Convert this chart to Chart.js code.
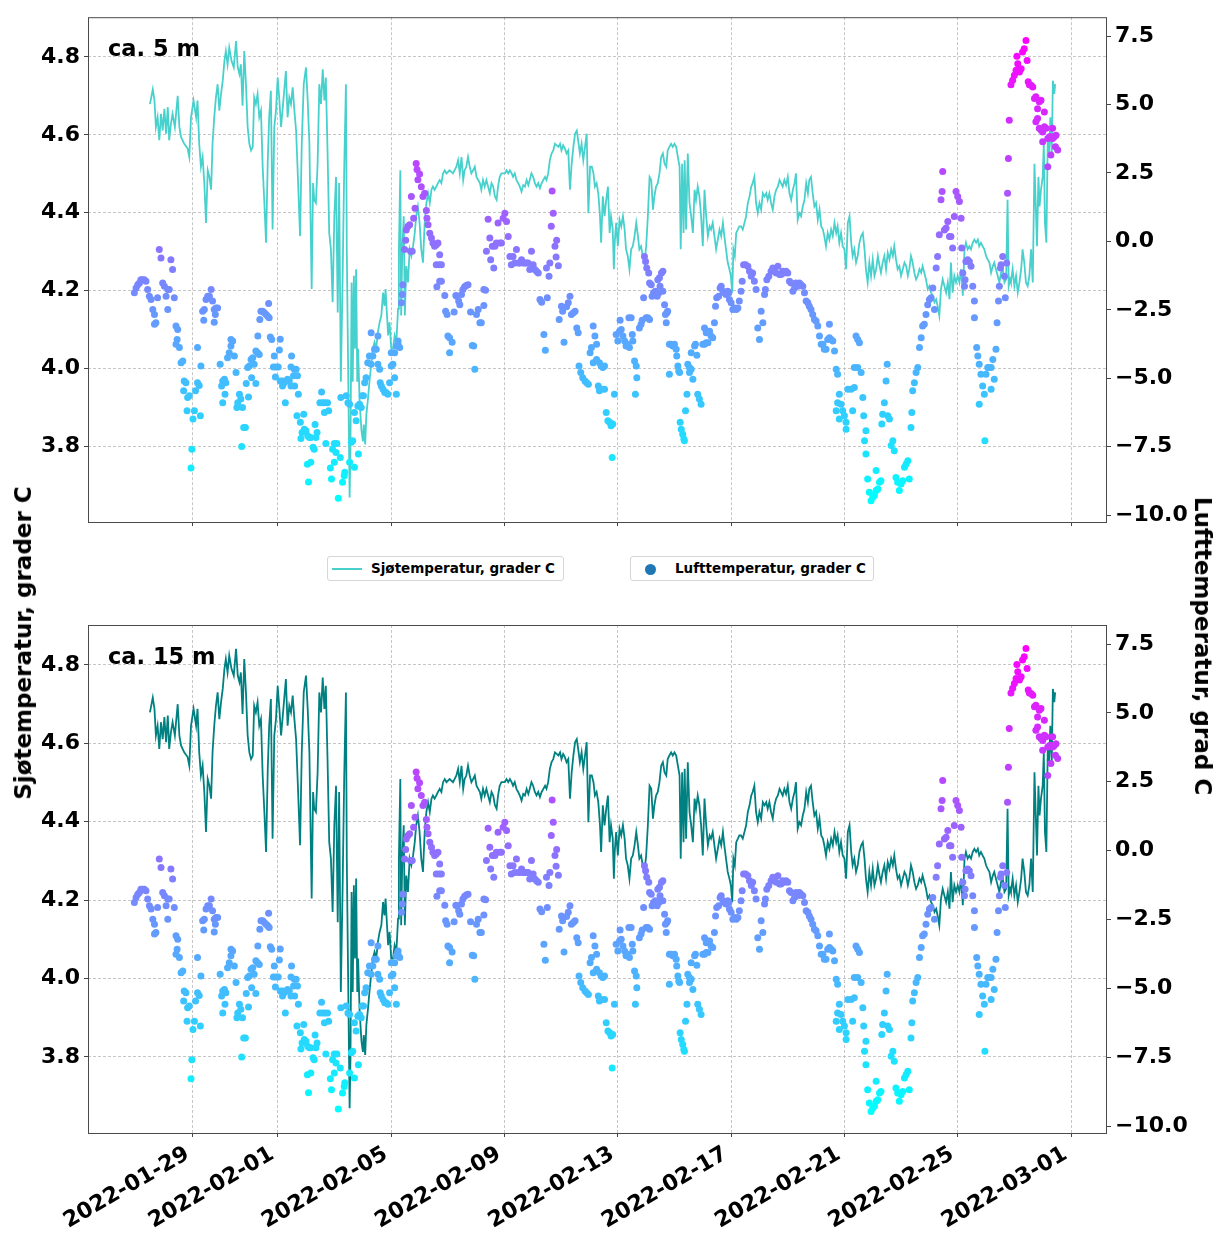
<!DOCTYPE html>
<html>
<head>
<meta charset="utf-8">
<title>Sjø- og lufttemperatur</title>
<script src="https://cdn.jsdelivr.net/npm/chart.js@4.4.1/dist/chart.umd.min.js"></script>
<style>
  body { margin: 0; background: #fff; }
  #fig { position: relative; width: 1217px; height: 1234px; font-family: "DejaVu Sans", sans-serif; font-weight: bold; color: #000; }
  #fig canvas { position: absolute; left: 0; }
  .axis-title { position: absolute; font-size: 23px; white-space: nowrap; }
  .legend-box { position: absolute; top: 556px; height: 25px; box-sizing: border-box; border: 1px solid #d6d6d6; border-radius: 3px; font-size: 13.5px; line-height: 23px; background: #fff; }
  .legend-box span { position: absolute; top: 0; }
</style>
</head>
<body>
<div id="fig">
  <canvas id="topChart" width="1217" height="540" style="top:0"></canvas>
  <canvas id="bottomChart" width="1217" height="634" style="top:600px"></canvas>

  <div class="legend-box" style="left:327px; width:237px;">
    <div style="position:absolute; left:4px; top:11px; width:30px; height:2px; background:#48d1cc;"></div>
    <span style="left:43px;">Sjøtemperatur, grader C</span>
  </div>
  <div class="legend-box" style="left:630px; width:244px;">
    <div style="position:absolute; left:14px; top:7px; width:11px; height:11px; border-radius:50%; background:#1f77b4;"></div>
    <span style="left:44px;">Lufttemperatur, grader C</span>
  </div>

  <div class="axis-title" style="left:23px; top:643px; transform:translate(-50%,-50%) rotate(-90deg);">Sjøtemperatur, grader C</div>
  <div class="axis-title" style="left:1203px; top:646px; transform:translate(-50%,-50%) rotate(90deg);">Lufttemperatur, grad C</div>
</div>

<script>
// Time axis: days since 2022-01-27 00:00
const dateTicks = [2, 5, 9, 13, 17, 21, 25, 29, 33];
const dateLabels = ['2022-01-29', '2022-02-01', '2022-02-05', '2022-02-09', '2022-02-13',
                    '2022-02-17', '2022-02-21', '2022-02-25', '2022-03-01'];
const seaTicks = [3.8, 4.0, 4.2, 4.4, 4.6, 4.8];
const airTicks = [-10, -7.5, -5, -2.5, 0, 2.5, 5, 7.5];
const panelLabels = ['ca. 5 m', 'ca. 15 m'];

// Sea temperature (grader C)
const seaDays = [
  0.48,0.58,0.64,0.69,0.75,0.81,0.87,0.93,0.99,1.05,1.11,1.16,1.22,1.28,1.36,1.46,1.52,1.58,1.69,1.81,
  1.87,1.93,2.02,2.11,2.16,2.22,2.28,2.34,2.40,2.46,2.52,2.58,2.64,2.69,2.75,2.81,2.87,2.93,2.99,3.05,
  3.11,3.16,3.22,3.28,3.36,3.44,3.52,3.58,3.64,3.69,3.75,3.81,3.87,3.93,3.99,4.05,4.11,4.16,4.22,4.28,
  4.34,4.40,4.46,4.52,4.58,4.64,4.69,4.75,4.81,4.87,4.93,4.99,5.05,5.11,5.16,5.22,5.28,5.34,5.40,5.46,
  5.52,5.58,5.64,5.69,5.78,5.84,5.91,5.99,6.05,6.11,6.19,6.24,6.28,6.34,6.40,6.46,6.52,6.58,6.64,6.69,
  6.75,6.81,6.87,6.93,6.99,7.05,7.11,7.16,7.22,7.28,7.34,7.40,
  7.43,7.47,7.53,7.56,7.60,7.64,7.68,7.72,7.76,7.80,7.83,7.88,7.92,7.95,8.00,8.03,8.08,8.12,8.18,8.23,
  8.29,8.35,8.41,8.47,8.53,8.59,8.65,8.71,8.76,8.80,8.85,8.89,8.94,9.00,9.06,9.12,9.18,9.24,9.27,9.32,
  9.35,9.39,9.44,9.48,9.53,9.59,9.65,9.71,9.77,9.83,9.88,9.94,10.00,10.06,10.12,10.18,10.24,10.30,10.36,10.42,
  10.47,10.53,10.59,10.65,10.71,10.77,10.83,10.89,10.95,11.06,11.18,11.30,11.36,11.42,11.48,11.54,11.59,11.65,11.71,11.77,
  11.83,11.89,11.95,12.01,12.07,12.13,12.18,12.24,12.30,12.36,12.42,12.48,12.54,12.60,12.66,12.72,12.77,12.83,12.89,12.95,
  13.01,13.07,13.13,13.19,13.25,13.30,13.36,13.42,13.48,13.54,13.60,13.66,13.72,13.78,13.84,13.89,13.95,14.01,14.07,14.13,
  14.19,14.25,14.31,14.37,14.43,14.48,14.54,14.60,14.66,14.72,14.78,14.84,14.90,14.96,15.01,15.07,15.13,15.19,15.25,15.31,
  15.37,15.43,15.49,15.55,15.60,15.66,15.72,15.78,15.84,15.90,15.96,16.02,16.08,16.14,16.19,16.25,16.31,16.37,
  16.41,16.47,16.53,16.59,16.65,16.71,16.76,16.82,16.86,16.89,16.94,17.00,17.06,17.12,17.18,17.24,17.29,17.35,17.41,17.47,
  17.53,17.59,17.65,17.71,17.76,17.82,17.88,17.94,18.00,18.06,18.12,18.18,18.24,18.29,18.35,18.41,18.47,18.53,18.59,18.65,
  18.71,18.76,18.82,18.88,18.94,19.00,19.06,19.12,19.18,19.22,19.27,19.32,19.36,19.41,19.47,19.53,19.59,19.65,19.71,19.76,
  19.82,19.88,19.94,20.00,20.06,20.12,20.18,20.24,20.29,20.35,20.41,20.47,20.53,20.59,20.65,20.71,20.76,20.82,20.88,20.94,
  20.99,21.04,21.08,21.13,21.18,21.24,21.29,21.35,21.41,21.47,21.53,21.59,21.65,21.71,21.76,21.82,21.88,21.94,22.00,22.06,
  22.12,22.18,22.24,22.29,22.35,22.41,22.47,22.53,22.59,22.65,22.71,22.76,22.82,22.88,22.94,23.00,23.06,23.12,23.18,23.24,
  23.29,23.35,23.41,23.47,23.53,23.59,23.65,23.71,23.76,23.82,23.88,23.94,24.00,24.06,24.12,24.18,24.24,24.29,24.35,24.41,
  24.47,24.53,24.59,24.65,24.71,24.76,24.82,24.88,24.94,25.00,25.06,25.12,25.18,
  25.24,25.29,25.35,25.41,25.47,25.53,25.59,25.65,25.71,25.76,25.82,25.88,25.94,26.00,26.06,26.12,26.18,26.24,26.29,26.35,
  26.41,26.47,26.53,26.59,26.65,26.71,26.76,26.82,26.88,26.94,27.00,27.06,27.12,27.18,27.24,27.29,27.35,27.41,27.47,27.53,
  27.59,27.65,27.71,27.76,27.82,27.88,27.94,28.00,28.06,28.12,28.18,28.24,28.29,28.35,28.41,28.47,28.53,28.59,28.65,28.71,
  28.76,28.82,28.88,28.94,29.00,29.06,29.12,29.18,29.24,29.29,29.35,29.41,29.47,29.53,29.59,29.65,29.71,29.76,29.82,29.88,
  29.94,30.00,30.06,30.12,30.18,30.24,30.29,30.35,30.41,30.47,30.53,30.59,30.65,30.71,30.76,30.80,30.85,30.88,30.94,31.00,
  31.06,31.12,31.18,31.24,31.29,31.35,31.41,31.47,31.53,31.59,31.65,31.71,31.76,31.80,31.85,31.89,31.94,32.00,32.04,32.08,
  32.13,32.18,32.22,32.27,32.32,32.36,32.41,32.44
];
const seaTemp = [
  4.679,4.717,4.688,4.620,4.645,4.586,4.654,4.611,4.667,4.603,4.671,4.586,4.628,4.654,4.620,4.700,4.620,4.594,4.577,4.565,
  4.543,4.645,4.688,4.645,4.688,4.577,4.518,4.543,4.476,4.374,4.509,4.492,4.459,4.577,4.645,4.696,4.730,4.662,4.705,4.739,
  4.790,4.815,4.781,4.824,4.790,4.773,4.841,4.773,4.756,4.781,4.675,4.815,4.730,4.620,4.577,4.560,4.569,4.696,4.679,4.705,
  4.645,4.662,4.518,4.425,4.323,4.535,4.645,4.713,4.357,4.620,4.662,4.747,4.688,4.620,4.662,4.713,4.764,4.645,4.696,4.679,
  4.722,4.662,4.611,4.518,4.340,4.577,4.730,4.773,4.688,4.577,4.204,4.476,4.433,4.425,4.526,4.730,4.679,4.768,4.688,4.747,
  4.560,4.348,4.306,4.170,4.391,4.492,4.144,4.476,3.966,4.221,4.518,4.730,
  4.306,4.051,3.669,3.796,4.221,3.966,4.238,4.051,4.255,3.966,4.051,3.924,3.873,3.839,3.813,3.856,3.805,3.881,3.924,3.966,
  4.009,4.051,4.068,4.051,4.094,4.119,4.136,4.195,4.161,4.204,4.136,4.085,4.119,4.051,4.051,4.085,4.068,4.153,4.306,4.509,
  4.136,4.306,4.391,4.136,4.263,4.221,4.306,4.289,4.314,4.348,4.391,4.416,4.374,4.306,4.272,4.374,4.425,4.450,4.425,4.459,
  4.467,4.459,4.467,4.476,4.484,4.476,4.501,4.509,4.501,4.509,4.501,4.518,4.535,4.501,4.543,4.484,4.509,4.518,4.543,4.518,
  4.501,4.509,4.518,4.492,4.484,4.476,4.459,4.484,4.467,4.484,4.467,4.450,4.476,4.467,4.442,4.433,4.467,4.492,4.501,4.501,
  4.501,4.509,4.501,4.509,4.501,4.492,4.501,4.484,4.476,4.467,4.454,4.471,4.467,4.484,4.471,4.484,4.501,4.492,4.476,4.467,
  4.476,4.463,4.476,4.484,4.492,4.484,4.501,4.535,4.552,4.560,4.577,4.573,4.569,4.577,4.560,4.573,4.565,4.552,4.560,4.459,
  4.526,4.569,4.603,4.611,4.586,4.552,4.577,4.535,4.569,4.603,4.399,4.518,4.518,4.501,4.467,4.476,4.450,4.391,
  4.323,4.442,4.391,4.433,4.467,4.348,4.391,4.357,4.255,4.323,4.374,4.314,4.382,4.365,4.391,4.357,4.306,4.289,4.255,4.306,
  4.314,4.340,4.374,4.340,4.306,4.314,4.289,4.272,4.314,4.391,4.492,4.484,4.408,4.442,4.467,4.476,4.501,4.543,4.552,4.526,
  4.518,4.560,4.569,4.577,4.569,4.577,4.569,4.543,4.518,4.306,4.526,4.348,4.535,4.357,4.552,4.425,4.391,4.348,4.459,4.433,
  4.467,4.442,4.391,4.314,4.459,4.391,4.340,4.365,4.357,4.374,4.340,4.306,4.331,4.357,4.340,4.374,4.340,4.306,4.272,4.255,
  4.238,4.195,4.306,4.289,4.348,4.357,4.365,4.365,4.357,4.374,4.391,4.425,4.442,4.467,4.476,4.492,4.425,4.399,4.425,4.408,
  4.450,4.442,4.450,4.433,4.450,4.425,4.408,4.442,4.459,4.467,4.484,4.476,4.467,4.484,4.471,4.492,4.450,4.433,4.459,4.476,
  4.501,4.382,4.399,4.391,4.416,4.433,4.476,4.450,4.484,4.492,4.450,4.416,4.425,4.382,4.408,4.365,4.357,4.340,4.314,4.348,
  4.331,4.357,4.340,4.374,4.348,4.365,4.323,4.348,4.314,4.306,4.255,4.374,4.391,
  4.323,4.289,4.306,4.272,4.289,4.323,4.340,4.348,4.306,4.255,4.221,4.272,4.238,4.280,4.238,4.255,4.289,4.263,4.246,4.272,
  4.289,4.255,4.297,4.280,4.306,4.289,4.314,4.280,4.255,4.263,4.238,4.255,4.272,4.263,4.238,4.255,4.289,4.272,4.246,4.229,
  4.238,4.255,4.246,4.263,4.246,4.229,4.204,4.212,4.195,4.187,4.170,4.178,4.161,4.136,4.204,4.229,4.212,4.195,4.221,4.178,
  4.272,4.195,4.238,4.221,4.238,4.221,4.255,4.187,4.306,4.323,4.306,4.314,4.306,4.323,4.331,4.323,4.331,4.314,4.323,4.314,
  4.306,4.289,4.280,4.272,4.246,4.263,4.272,4.255,4.238,4.221,4.246,4.255,4.221,4.229,4.433,4.212,4.229,4.221,4.255,4.212,
  4.238,4.195,4.221,4.255,4.306,4.272,4.221,4.212,4.238,4.306,4.221,4.526,4.408,4.314,4.492,4.416,4.459,4.492,4.577,4.374,
  4.323,4.594,4.543,4.645,4.552,4.739,4.705,4.730
];

// Air temperature (grader C)
const airDays = [
  -0.07,-0.01,0.05,0.11,0.16,0.22,0.28,0.34,0.40,0.46, 0.52,0.58,0.64,0.64,0.69,0.75,0.81,0.87,0.93,0.99,
  1.05,1.11,1.11,1.16,1.22,1.28,1.34,1.40,1.40,1.44, 1.46,1.52,1.58,1.64,1.67,1.69,1.75,1.79,1.81,1.87,
  1.93,1.96,2.00,2.05,2.09,2.16,2.16,2.22,2.26,2.28, 2.34,2.38,2.40,2.46,2.52,2.58,2.64,2.69,2.75,2.75,
  2.79,2.81,2.87,2.96,3.01,3.05,3.05,3.11,3.13,3.16, 3.22,3.28,3.34,3.34,3.40,3.46,3.52,3.55,3.58,3.64,
  3.69,3.72,3.75,3.79,3.85,3.88,3.93,3.96,3.99,4.05, 4.07,4.11,4.16,4.22,4.22,4.28,4.29,4.34,4.36,4.40,
  4.46,4.52,4.58,4.64,4.67,4.69,4.73,4.78,4.84,4.87, 4.91,4.93,5.01,5.05,5.08,5.08,5.16,5.16,5.22,5.26,
  5.28,5.34,5.40,5.46,5.46,5.48,5.55,5.58,5.59,5.64, 5.67,5.69,5.72,5.79,5.81,5.85,5.91,5.93,5.99,6.04,
  6.05,6.08,6.11,6.16,6.16,6.24,6.28,6.31,6.34,6.38, 6.48,6.54,6.58,6.64,6.66,6.69,6.75,6.79,6.85,6.89,
  6.93,6.99,6.99,7.05,7.08,7.13,7.20,7.22,7.28,7.34, 7.36,
  7.41,7.47,7.53,7.53,7.59,7.64,7.70,7.70,7.76,7.82, 7.84,7.88,7.94,7.97,8.02,8.06,8.11,8.17,8.23,8.29,
  8.29,8.35,8.41,8.47,8.53,8.53,8.59,8.61,8.65,8.71, 8.77,8.82,8.88,8.94,9.00,9.00,9.06,9.12,9.12,9.18,
  9.18,9.24,9.24,9.30,9.36,9.39,9.41,9.47,9.51,9.53, 9.59,9.65,9.68,9.74,9.79,9.71,9.84,9.88,9.91,9.94,
  10.00,10.06,10.12,10.18,10.24,10.26,10.30,10.36,10.42,10.47, 10.53,10.59,10.65,10.59,10.69,10.71,10.77,10.61,10.71,10.77,
  10.89,10.92,10.97,11.00,11.06,11.15,11.06,11.22,11.28,11.32, 11.38,11.42,11.48,11.53,11.59,11.65,11.71,11.80,11.86,11.91,
  11.95,12.01,12.07,12.13,12.18,12.27,12.27,12.33,12.36,12.42, 12.48,12.51,12.57,12.62,12.66,12.71,12.77,12.83,12.89,12.95,
  13.01,13.07,13.13,13.19,13.24,13.30,13.36,13.42,13.48,13.54, 13.60,13.66,13.72,13.77,13.83,13.89,13.95,14.01,14.07,14.13,
  14.19,14.25,14.31,14.39,14.44,14.51,14.48,14.57,14.60,14.65, 14.68,14.72,14.78,14.82,14.84,14.90,14.93,15.01,15.05,15.10,
  15.19,15.25,15.31,15.36,15.43,15.49,15.55,15.60,15.63,15.69, 15.76,15.84,15.90,15.96,16.02,16.07,16.13,16.13,16.19,16.25,
  16.25,16.31,
  16.35,16.35,16.41,16.41,16.47,16.53,16.53,16.59,16.65,16.71, 16.76,16.80,16.82,16.88,16.94,17.00,17.06,17.08,17.12,17.18,
  17.24,17.29,17.35,17.39,17.41,17.47,17.51,17.53,17.59,17.62, 17.65,17.67,17.76,17.82,17.86,17.91,17.94,17.98,18.00,18.02,
  18.06,18.09,18.12,18.12,18.18,18.21,18.26,18.32,18.39,18.41, 18.45,18.47,18.49,18.54,18.59,18.59,18.65,18.68,18.71,18.73,
  18.76,18.82,18.82,18.88,18.94,19.00,19.06,19.08,19.12,19.15, 19.18,19.20,19.24,19.29,19.33,19.35,19.39,19.44,19.47,19.53,
  19.53,19.59,19.59,19.65,19.71,19.74,19.79,19.82,19.88,19.94, 20.00,20.06,20.06,20.12,20.12,20.18,20.18,20.24,20.29,20.35,
  20.41,20.45,20.49,20.56,20.61,20.65,20.71,20.76,20.82,20.88, 20.92,20.94,21.00,21.06,21.12,21.18,21.24,21.29,21.35,21.39,
  21.44,21.51,21.59,21.65,21.71,21.76,21.82,21.88,21.94,22.00, 22.06,22.12,22.18,22.21,22.26,22.33,22.41,22.47,22.53,22.59,
  22.65,22.71,22.76,22.82,22.88,22.94,23.00,23.06,23.12,23.18, 23.24,23.29,23.35,23.41,23.47,23.53,23.59,23.65,23.71,23.76,
  23.82,23.88,23.94,24.00,24.06,24.12,24.18,24.24,24.29,24.35, 24.41,24.47,24.47,24.53,24.59,24.65,24.71,24.71,24.76,24.76,
  24.82,24.82,24.88,24.94,25.00,25.06,25.06,25.12,
  25.24,25.29,25.35,25.35,25.41,25.47,25.47,25.53,25.59,25.65, 25.68,25.71,25.76,25.76,25.82,25.88,25.94,26.00,26.06,26.12,
  26.12,26.18,26.24,26.29,26.32,26.35,26.41,26.47,26.51,26.53, 26.59,26.65,26.71,26.76,26.82,26.88,26.94,27.00,27.06,27.12,
  27.18,27.24,27.29,27.35,27.38,27.41,27.47,27.53,27.59,27.65, 27.71,27.76,27.82,27.88,27.94,28.00,28.06,28.12,28.18,28.24,
  28.29,28.35,28.41,28.45,28.47,28.53,28.59,28.65,28.71,28.76, 28.82,28.88,28.94,29.00,29.06,29.12,29.14,29.18,29.24,29.26,
  29.29,29.35,29.41,29.47,29.53,29.59,29.59,29.67,29.71,29.76, 29.76,29.82,29.88,29.94,29.96,30.00,30.06,30.12,30.18,30.18,
  30.24,30.29,30.35,30.39,30.44,30.47,30.51,30.53,30.59,30.65, 30.68,30.73,30.76,30.79,30.82,30.88,30.94,31.00,31.06,31.09,
  31.12,31.18,31.24,31.29,31.35,31.41,31.45,31.49,31.53,31.59, 31.65,31.71,31.76,31.76,31.82,31.82,31.88,31.88,31.94,31.94,
  32.00,32.00,32.06,32.06,32.12,32.18,32.18,32.24,32.29,32.29, 32.35,32.35,32.41,32.45,32.47,32.53
];
const airTemp = [
  -1.88,-1.70,-1.58,-1.52,-1.40,-1.40,-1.40,-1.46,-1.76,-2.00, -2.12,-2.49,-2.67,-3.03,-2.97,-2.06,-0.30,-0.61,-1.52,-1.64,
  -2.00,-1.76,-2.49,-1.76,-0.67,-1.03,-2.06,-3.09,-3.76,-3.58, -3.22,-3.88,-4.43,-4.37,-5.46,-5.10,-5.16,-6.19,-5.70,-5.64,
  -8.28,-7.59,-6.49,-6.19,-5.46,-5.16,-3.88,-5.26,-6.37,-4.55, -2.55,-2.88,-2.49,-2.12,-2.00,-2.00,-1.76,-2.18,-2.49,-2.95,
  -2.67,-2.43,-2.43,-4.49,-5.28,-5.10,-5.89,-5.04,-5.58,-5.16, -4.25,-4.07,-3.58,-3.82,-3.64,-4.19,-4.79,-6.07,-5.89,-5.58,
  -5.76,-7.49,-6.07,-6.80,-6.80,-5.19,-4.61,-5.68,-4.55,-4.31, -4.98,-4.25,-4.49,-4.00,-5.19,-4.07,-3.46,-4.13,-2.85,-2.55,
  -2.55,-2.61,-2.67,-2.73,-2.27,-2.79,-3.49,-3.58,-4.59,-4.19, -4.95,-4.59,-4.59,-3.97,-3.57,-5.10,-5.10,-5.28,-5.16,-5.89,
  -5.10,-5.04,-5.10,-4.59,-5.28,-4.19,-4.91,-4.67,-5.28,-4.67, -6.37,-4.91,-5.58,-6.61,-7.20,-6.98,-6.31,-6.86,-6.92,-8.14,
  -7.10,-8.79,-7.16,-8.07,-7.16,-7.52,-7.59,-6.69,-7.16,-6.98, -5.89,-5.50,-5.89,-6.25,-5.89,-7.38,-5.89,-6.19,-8.28,-8.68,
  -7.59,-7.38,-8.07,-7.71,-7.38,-9.38,-7.89,-5.70,-8.80,-8.56, -8.43,
  -5.64,-5.89,-5.95,-8.07,-7.34,-7.28,-8.25,-6.25,-6.55,-6.01, -7.77,-5.95,-6.07,-5.64,-5.64,-5.16,-4.98,-4.43,-4.19,-3.34,
  -4.49,-4.19,-3.94,-3.94,-3.46,-4.49,-4.67,-5.16,-5.28,-5.40, -5.52,-5.52,-5.58,-5.16,-4.55,-4.07,-4.49,-4.98,-4.07,-5.58,
  -3.82,-3.64,-3.76,-3.88,-2.24,-1.94,-1.58,-0.30,0.04,0.42, 0.55,0.61,-0.36,-0.36,0.85,1.64,1.21,2.85,2.63,2.25,
  2.46,2.00,1.64,1.76,1.13,0.85,0.61,0.30,0.12,-0.06, -0.18,-0.12,-0.06,-0.85,-0.85,-0.49,-0.85,-1.66,-1.46,-1.46,
  -1.98,-2.55,-2.67,-3.46,-3.52,-3.68,-4.07,-2.58,-1.98,-2.00, -2.18,-2.31,-1.94,-1.76,-1.66,-1.61,-1.58,-2.58,-3.80,-3.82,
  -4.67,-2.67,-2.49,-2.97,-2.97,-2.34,-1.76,-1.78,-0.36,0.81, 0.12,-0.67,-0.18,-0.97,-0.18,-0.06,0.67,-0.06,-0.06,0.85,
  1.03,0.73,0.18,-0.55,-0.85,-0.55,-0.79,-0.30,-0.79,-0.79, -0.67,-0.79,-0.79,-0.79,-0.79,-1.03,-0.36,-0.85,-1.03,-1.09,
  -1.15,-2.12,-2.22,-3.40,-3.98,-2.06,-0.97,-1.27,-0.79,0.55, 1.84,1.03,-0.18,-0.57,0.04,-0.89,-2.85,-2.37,-2.55,-3.68,
  -2.39,-2.24,-2.00,-2.67,-2.61,-2.55,-3.16,-3.34,-4.55,-4.79, -4.98,-5.10,-5.16,-5.22,-4.07,-3.88,-3.09,-4.43,-3.46,-3.76,
  -4.31,-5.28,
  -4.43,-5.46,-4.55,-5.40,-4.61,-4.55,-5.40,-6.25,-6.55,-6.61, -6.73,-7.89,-6.67,-5.58,-3.40,-3.64,-3.28,-2.88,-3.22,-3.46,
  -3.64,-3.82,-3.76,-2.79,-3.88,-2.79,-3.40,-3.64,-4.37,-5.58, -4.55,-4.98,-3.16,-3.03,-2.88,-2.06,-0.55,-0.73,-2.79,-0.97,
  -2.79,-1.15,-2.85,-1.52,-1.58,-2.00,-1.88,-1.82,-2.00,-1.40, -1.88,-1.33,-1.64,-1.15,-1.09,-1.82,-2.31,-2.67,-2.97,-2.61,
  -2.55,-3.76,-4.85,-3.76,-3.82,-3.76,-3.94,-4.19,-4.55,-4.73, -4.79,-6.61,-6.86,-7.04,-7.22,-7.28,-6.19,-5.58,-4.49,-4.61,
  -4.79,-4.67,-4.07,-5.04,-3.82,-3.76,-4.16,-5.58,-5.76,-5.95, -3.76,-3.76,-3.16,-3.70,-3.34,-3.70,-3.28,-3.28,-3.46,-3.52,
  -2.97,-2.37,-2.06,-2.00,-1.70,-1.64,-1.82,-1.88,-1.94,-1.82, -1.88,-2.12,-2.24,-2.49,-2.43,-2.49,-2.43,-2.18,-1.82,-1.46,
  -0.85,-0.85,-0.91,-1.09,-1.27,-1.15,-1.46,-1.76,-3.16,-3.58, -2.55,-2.97,-1.94,-1.76,-1.40,-1.27,-1.09,-0.97,-1.09,-1.15,
  -0.91,-1.21,-1.21,-1.09,-1.15,-1.09,-1.15,-1.46,-1.52,-1.82, -1.70,-1.52,-1.64,-1.52,-1.58,-1.64,-1.88,-2.18,-2.24,-2.37,
  -2.49,-2.67,-2.85,-2.91,-3.09,-3.46,-3.76,-3.76,-3.94,-3.94, -3.58,-3.52,-3.03,-3.58,-3.64,-4.00,-4.67,-6.19,-4.85,-5.89,
  -5.58,-6.49,-5.95,-6.19,-6.37,-6.61,-6.86,-5.40,
  -5.40,-6.19,-5.34,-4.61,-3.46,-3.58,-4.61,-3.70,-4.79,-5.70, -6.37,-7.28,-6.92,-7.77,-8.68,-9.16,-9.47,-9.34,-9.28,-9.10,
  -8.37,-9.04,-8.80,-8.74,-6.67,-6.31,-5.89,-5.10,-4.49,-6.37, -6.49,-7.46,-7.28,-7.65,-8.62,-8.80,-9.10,-8.86,-8.74,-8.25,
  -8.13,-8.01,-8.68,-6.80,-6.25,-5.46,-5.16,-4.79,-4.61,-3.88, -3.52,-3.09,-3.03,-2.67,-2.31,-2.12,-2.06,-1.70,-2.49,-0.97,
  -0.55,0.24,1.52,1.82,2.55,0.42,0.49,0.73,0.18,0.18, -0.24,0.91,1.82,1.64,1.46,0.85,-0.24,-1.15,-1.64,-1.40,
  -0.73,-0.67,-0.73,-0.91,-1.64,-2.18,-2.79,-3.88,-4.19,-4.49, -5.95,-4.85,-5.28,-5.58,-7.28,-4.85,-4.61,-4.61,-4.61,-5.40,
  -4.31,-5.04,-3.94,-2.97,-2.18,-1.64,-0.97,-0.85,-0.55,-1.27, -2.06,-0.79,1.76,3.03,4.43,5.72,5.89,6.07,6.25,6.76,
  6.49,6.19,6.31,6.92,7.04,7.34,6.61,5.83,5.72,5.70, 5.64,5.22,5.28,4.37,4.85,4.49,5.10,4.13,5.16,4.07,
  4.00,3.64,4.73,4.19,4.13,3.76,2.73,3.82,3.82,3.16, 3.76,4.13,3.82,3.46,3.88,3.34
];

// "cool" colour map: cyan at the coldest reading, magenta at the warmest
const airMin = Math.min(...airTemp);
const airMax = Math.max(...airTemp);
function coolColor(v) {
    const f = (v - airMin) / (airMax - airMin);
    return `rgb(${Math.round(255 * f)}, ${Math.round(255 * (1 - f))}, 255)`;
}

const seaPoints = seaDays.map((d, i) => ({x: d, y: seaTemp[i]}));
const airPoints = airDays.map((d, i) => ({x: d, y: airTemp[i]}));
const airColors = airTemp.map(coolColor);

const TICK_FONT = 'bold 22px "DejaVu Sans"';

Chart.defaults.font.family = '"DejaVu Sans", sans-serif';
Chart.defaults.font.weight = 'bold';
Chart.defaults.color = '#000';

// Frame around the plot area, the depth label, and the slanted date labels
const framePlugin = {
    id: 'frame',
    afterDraw(chart, args, opts) {
        const ctx = chart.ctx;
        const a = chart.chartArea;
        ctx.save();
        ctx.strokeStyle = '#4a4a4a';
        ctx.lineWidth = 1;
        ctx.setLineDash([]);
        ctx.strokeRect(a.left + 0.5, a.top + 0.5, a.right - a.left - 1, a.bottom - a.top);

        ctx.fillStyle = '#000';
        ctx.font = 'bold 22.5px "DejaVu Sans"';
        ctx.textAlign = 'left';
        ctx.textBaseline = 'alphabetic';
        ctx.fillText(opts.label, a.left + 20, a.top + 39);

        if (opts.dates) {
            // right end of each label hangs just below its tick, rotated 30 degrees
            const xScale = chart.scales.x;
            const angle = 30 * Math.PI / 180;
            const size = 22;
            const ascent = 0.928 * size, descent = 0.236 * size;
            const top = a.bottom + 7;
            ctx.font = TICK_FONT;
            ctx.textAlign = 'right';
            dateTicks.forEach((d, i) => {
                const px = xScale.getPixelForValue(d);
                ctx.save();
                ctx.translate(px - descent * Math.sin(angle), top + ascent * Math.cos(angle));
                ctx.rotate(-angle);
                ctx.fillText(dateLabels[i], 0, 0);
                ctx.restore();
            });
        }
        ctx.restore();
    }
};

function makePanel(canvasId, lineColor, label, showDates, padTop, xHeight) {
    const tickFont = {size: 22, weight: 'bold'};
    const tickGrid = {color: '#b8b8b8', lineWidth: 0.8, tickLength: 4, tickColor: '#444', tickWidth: 1, tickBorderDash: []};
    return new Chart(document.getElementById(canvasId), {
        data: {
            datasets: [{
                type: 'scatter',
                label: 'Lufttemperatur, grader C',
                data: airPoints,
                yAxisID: 'y2',
                pointRadius: 3.5,
                pointBorderWidth: 0,
                pointBackgroundColor: airColors,
                order: 0
            }, {
                type: 'line',
                label: 'Sjøtemperatur, grader C',
                data: seaPoints,
                yAxisID: 'y',
                borderColor: lineColor,
                borderWidth: 1.8,
                pointRadius: 0,
                tension: 0,
                order: 1
            }]
        },
        options: {
            responsive: false,
            animation: false,
            events: [],
            layout: {padding: {top: padTop, left: 0, right: 0, bottom: 0}},
            plugins: {
                legend: {display: false},
                tooltip: {enabled: false},
                frame: {label: label, dates: showDates}
            },
            scales: {
                x: {
                    type: 'linear',
                    min: -1.707,
                    max: 34.271,
                    afterBuildTicks: (scale) => { scale.ticks = dateTicks.map(v => ({value: v})); },
                    afterFit: (scale) => { scale.height = xHeight; },
                    ticks: {autoSkip: false, maxRotation: 0, callback: () => ''},
                    grid: tickGrid,
                    border: {display: false, dash: [3, 2]}
                },
                y: {
                    position: 'left',
                    min: 3.606,
                    max: 4.902,
                    afterBuildTicks: (scale) => { scale.ticks = seaTicks.map(v => ({value: v})); },
                    afterFit: (scale) => { scale.width = 88; },
                    ticks: {font: tickFont, padding: 4, callback: (v) => v.toFixed(1)},
                    grid: tickGrid,
                    border: {display: false, dash: [3, 2]}
                },
                y2: {
                    position: 'right',
                    min: -10.25,
                    max: 8.19,
                    afterBuildTicks: (scale) => { scale.ticks = airTicks.map(v => ({value: v})); },
                    afterFit: (scale) => { scale.width = 110; },
                    ticks: {
                        font: tickFont,
                        padding: 4,
                        callback: (v) => (v < 0 ? '\u2212' : '') + Math.abs(v).toFixed(1)
                    },
                    grid: {drawOnChartArea: false, tickLength: 4, tickColor: '#444', tickWidth: 1, tickBorderDash: []},
                    border: {display: false}
                }
            }
        },
        plugins: [framePlugin]
    });
}

makePanel('topChart', '#48d1cc', panelLabels[0], false, 14, 18);
makePanel('bottomChart', '#008080', panelLabels[1], true, 25, 101);
</script>
</body>
</html>
